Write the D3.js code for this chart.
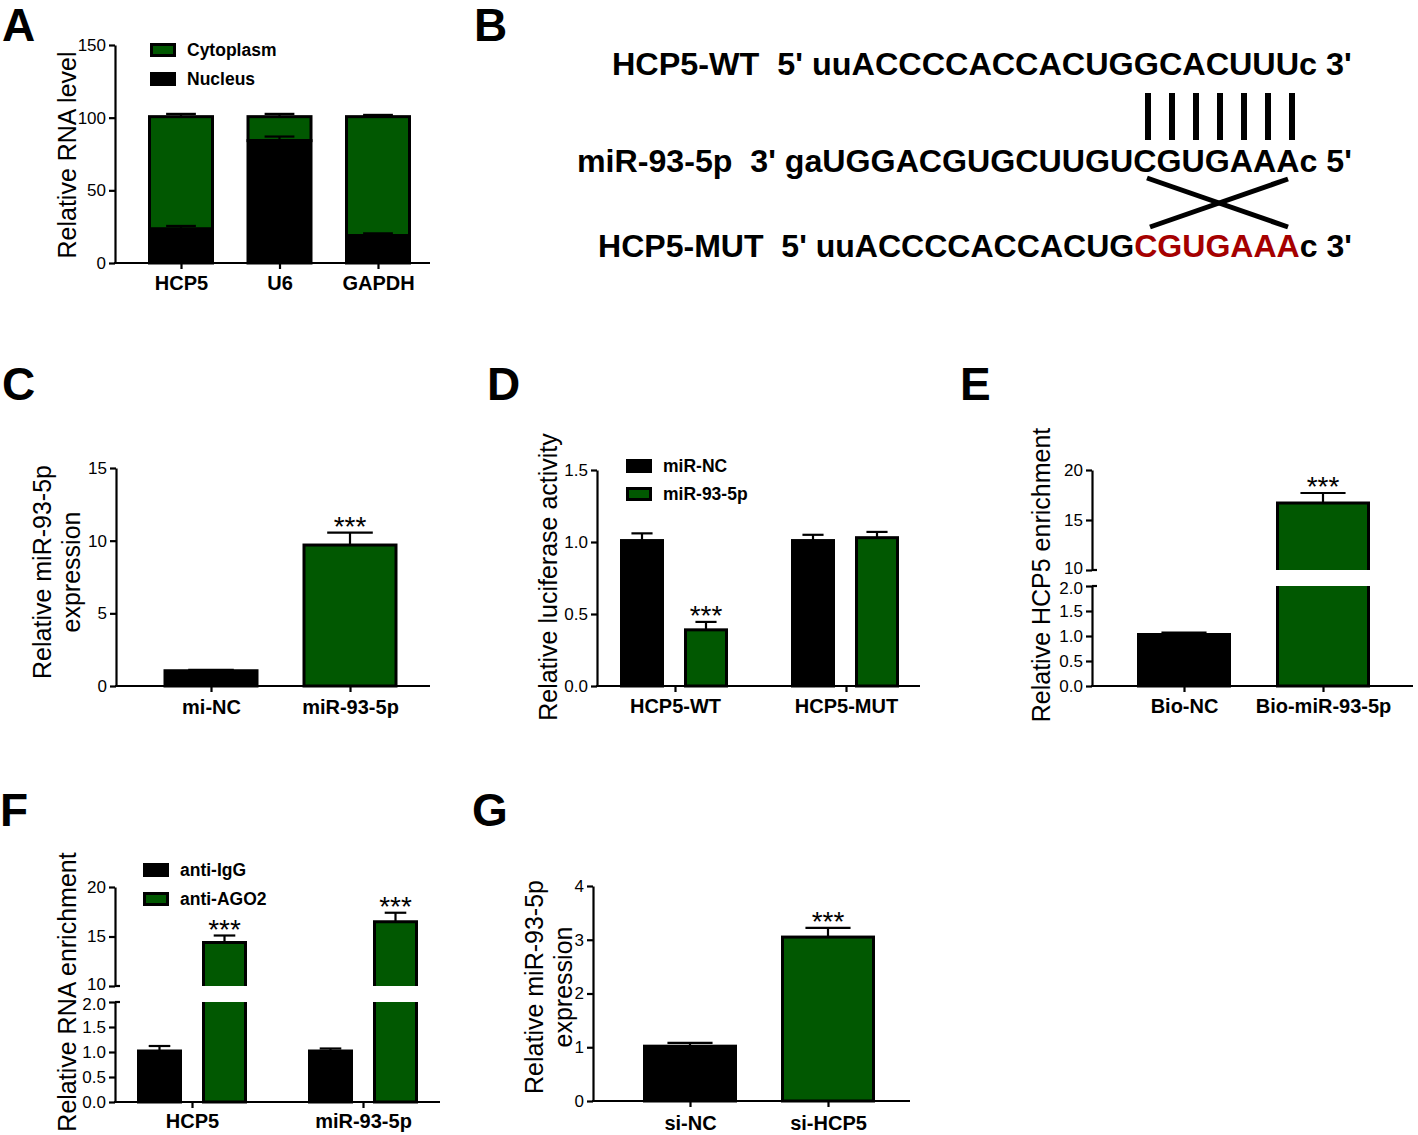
<!DOCTYPE html>
<html><head><meta charset="utf-8">
<script src="https://cdn.jsdelivr.net/npm/d3@7"></script>
<style>body{margin:0;background:#fff}svg{display:block}</style>
</head><body>
<svg id="fig" width="1418" height="1135"></svg>
<script>
// ---------------- DATA ----------------
// Panel A (stacked)
const catsA = ["HCP5", "U6", "GAPDH"];
const seriesA = ["Cytoplasm", "Nucleus"];
const nucleusA = [23.4, 84.2, 18.8];
const nucleusErrA = [2.1, 2.8, 1.6];
const cytoplasmA = [77.3, 16.5, 81.9];
const totalErrA = [1.9, 1.9, 1.2];
const ticksA = [0, 50, 100, 150];

// Panel B (sequences)
const labelsB = ["HCP5-WT", "miR-93-5p", "HCP5-MUT"];
const seqWT = ["5' uuACCCCACCACUGGCACUUUc 3'"];
const seqMiR = ["3' gaUGGACGUGCUUGUCGUGAAAc 5'"];
const seqMUT = ["5' uuACCCCACCACUG", "CGUGAAA", "c 3'"];
const basePairsB = 7;

// Panel C
const catsC = ["mi-NC", "miR-93-5p"];
const valsC = [1.05, 9.7];
const errC = [0.06, 0.85];
const sigC = ["", "***"];
const ticksC = [0, 5, 10, 15];

// Panel D (grouped)
const groupsD = ["HCP5-WT", "HCP5-MUT"];
const seriesD = ["miR-NC", "miR-93-5p"];
const ncD = [1.01, 1.01];
const ncErrD = [0.05, 0.04];
const mirD = [0.39, 1.03];
const mirErrD = [0.055, 0.04];
const sigD = ["***", ""];
const ticksD = [0, 0.5, 1.0, 1.5];

// Panel E (broken axis)
const catsE = ["Bio-NC", "Bio-miR-93-5p"];
const valsE = [1.03, 16.7];
const errE = [0.04, 1.0];
const sigE = ["", "***"];
const lowTicksE = [0, 0.5, 1.0, 1.5, 2.0];
const upTicksE = [10, 15, 20];

// Panel F (grouped, broken axis)
const groupsF = ["HCP5", "miR-93-5p"];
const seriesF = ["anti-IgG", "anti-AGO2"];
const iggF = [1.02, 1.02];
const iggErrF = [0.1, 0.05];
const ago2F = [14.4, 16.5];
const ago2ErrF = [0.7, 0.9];
const sigF = ["***", "***"];
const lowTicksF = [0, 0.5, 1.0, 1.5, 2.0];
const upTicksF = [10, 15, 20];

// Panel G
const catsG = ["si-NC", "si-HCP5"];
const valsG = [1.02, 3.05];
const errG = [0.06, 0.17];
const sigG = ["", "***"];
const ticksG = [0, 1, 2, 3, 4];

// ---------------- STYLE ----------------
const GREEN = "#015801";
const RED = "#a50000";
const FONT = '"Liberation Sans", Arial, Helvetica, sans-serif';
const LW = 2.2;

const svg = d3.select("#fig").attr("font-family", FONT);

// ---------------- HELPERS ----------------
function yAxis(g, scale, x, ticks, fmt) {
  const ax = d3.axisLeft(scale).tickValues(ticks).tickFormat(fmt)
    .tickSize(6).tickSizeOuter(0).tickPadding(3);
  const a = g.append("g").attr("transform", `translate(${x},0)`).call(ax)
    .attr("font-family", FONT).attr("font-size", 17);
  a.select(".domain").attr("stroke-width", LW);
  a.selectAll(".tick line").attr("stroke-width", LW);
  a.selectAll(".tick text").attr("fill", "#000");
  return a;
}
function xAxis(g, scale, y, x0, x1, pad) {
  g.append("line").attr("x1", x0 - 1).attr("x2", x1).attr("y1", y).attr("y2", y)
    .attr("stroke", "#000").attr("stroke-width", LW);
  const ax = d3.axisBottom(scale).tickSize(6).tickSizeOuter(0).tickPadding(pad);
  const a = g.append("g").attr("transform", `translate(0,${y})`).call(ax)
    .attr("font-family", FONT).attr("font-size", 20).attr("font-weight", "bold");
  a.select(".domain").remove();
  a.selectAll(".tick line").attr("stroke-width", LW);
  a.selectAll(".tick text").attr("fill", "#000");
}
function bar(g, xc, bw, yTop, yBase, color) {
  g.append("rect").attr("x", xc - bw / 2 + 1.5).attr("width", bw - 3)
    .attr("y", yTop).attr("height", Math.max(0, yBase - yTop))
    .attr("fill", color).attr("stroke", "#000").attr("stroke-width", 3);
}
function errBar(g, xc, bw, yTop, yErr) {
  g.append("line").attr("x1", xc).attr("x2", xc).attr("y1", yTop).attr("y2", yErr)
    .attr("stroke", "#000").attr("stroke-width", LW);
  g.append("line").attr("x1", xc - bw * 0.24).attr("x2", xc + bw * 0.24)
    .attr("y1", yErr).attr("y2", yErr).attr("stroke", "#000").attr("stroke-width", LW);
}
function sig(g, xc, yErr, s) {
  if (!s) return;
  g.append("text").attr("x", xc).attr("y", yErr + 3).attr("text-anchor", "middle")
    .attr("font-size", 28).attr("fill", "#000").text(s);
}
function yTitle(g, lines, xBase, yc, gap) {
  lines.forEach((t, i) => {
    g.append("text").attr("transform", `translate(${xBase + i * gap},${yc}) rotate(-90)`)
      .attr("text-anchor", "middle").attr("font-size", 25).attr("fill", "#000").text(t);
  });
}
function legend(g, items, x, y0, dy) {
  items.forEach((it, i) => {
    const y = y0 + i * dy;
    g.append("rect").attr("x", x + 1.5).attr("y", y + 1.5).attr("width", 23).attr("height", 11)
      .attr("fill", it.color).attr("stroke", "#000").attr("stroke-width", 3);
    g.append("text").attr("x", x + 37).attr("y", y + 13).attr("font-size", 17.5)
      .attr("font-weight", "bold").attr("fill", "#000").text(it.label);
  });
}
function panelLetter(t, x, y) {
  svg.append("text").attr("x", x).attr("y", y).attr("font-size", 46)
    .attr("font-weight", "bold").attr("fill", "#000").text(t);
}
// broken-axis helpers
function brokenY(g, lower, upper, x, lowTicks, upTicks) {
  const aL = yAxis(g, lower, x, lowTicks, d3.format(".1f"));
  const aU = yAxis(g, upper, x, upTicks, d3.format("d"));
  const lt = lower.domain()[1], ut = upper.domain()[0];
  aL.selectAll(".tick text").filter(d => d === lt).attr("dy", "0.45em");
  aU.selectAll(".tick text").filter(d => d === ut).attr("dy", "0.22em");
  [upper(ut), lower(lt)].forEach(yy => {
    g.append("line").attr("x1", x).attr("x2", x + 5).attr("y1", yy).attr("y2", yy)
      .attr("stroke", "#000").attr("stroke-width", LW);
  });
}
function brokenBar(g, xc, bw, v, lower, upper, color) {
  const top = lower.domain()[1];
  if (v <= top) { bar(g, xc, bw, lower(v), lower(0), color); return lower(v); }
  const x0 = xc - bw / 2 + 1.5, x1 = xc + bw / 2 - 1.5;
  const yb = lower(0), yl = lower(top), yu0 = upper(upper.domain()[0]), yt = upper(v);
  g.append("rect").attr("x", x0).attr("y", yl).attr("width", x1 - x0).attr("height", yb - yl).attr("fill", color);
  g.append("path").attr("d", `M${x0},${yl}V${yb}H${x1}V${yl}`).attr("fill", "none")
    .attr("stroke", "#000").attr("stroke-width", 3);
  g.append("rect").attr("x", x0).attr("y", yt).attr("width", x1 - x0).attr("height", yu0 - yt).attr("fill", color);
  g.append("path").attr("d", `M${x0},${yu0}V${yt}H${x1}V${yu0}`).attr("fill", "none")
    .attr("stroke", "#000").attr("stroke-width", 3);
  return yt;
}
function brokenVal(v, lower, upper) { return v <= lower.domain()[1] ? lower(v) : upper(v); }

// ---------------- PANEL A ----------------
{
  const g = svg.append("g");
  const y = d3.scaleLinear().domain([0, 150]).range([263, 45]);
  const x = d3.scalePoint().domain(catsA).range([181, 378]);
  const bw = 66;
  catsA.forEach((c, i) => {
    const xc = x(c);
    const tot = nucleusA[i] + cytoplasmA[i];
    bar(g, xc, bw, y(tot), y(nucleusA[i]), GREEN);
    bar(g, xc, bw, y(nucleusA[i]), y(0), "#000");
    errBar(g, xc, bw * 0.94, y(nucleusA[i]), y(nucleusA[i] + nucleusErrA[i]));
    errBar(g, xc, bw * 0.94, y(tot), y(tot + totalErrA[i]));
  });
  yAxis(g, y, 115, ticksA, d3.format("d"));
  xAxis(g, x, y(0), 115, 430, 7);
  legend(g, [{ label: seriesA[0], color: GREEN }, { label: seriesA[1], color: "#000" }], 150, 43, 29);
  yTitle(g, ["Relative RNA level"], 76, 155, 0);
  panelLetter("A", 2, 41);
}

// ---------------- PANEL B ----------------
{
  const g = svg.append("g");
  const right = 1352;
  const rows = [
    { label: labelsB[0], parts: [{ t: seqWT[0], c: "#000" }], x0: 612, base: 75 },
    { label: labelsB[1], parts: [{ t: seqMiR[0], c: "#000" }], x0: 577, base: 172 },
    { label: labelsB[2], parts: [{ t: seqMUT[0], c: "#000" }, { t: seqMUT[1], c: RED }, { t: seqMUT[2], c: "#000" }], x0: 598, base: 257 }
  ];
  rows.forEach(r => {
    const t = g.append("text").attr("font-size", 32).attr("font-weight", "bold")
      .style("white-space", "pre").attr("x", 0).attr("y", 0);
    t.append("tspan").attr("fill", "#000").text(r.label + "  ");
    r.parts.forEach(p => t.append("tspan").attr("fill", p.c).text(p.t));
    const w = t.node().getComputedTextLength();
    const sx = (right - r.x0) / w;
    t.attr("transform", `translate(${r.x0},${r.base}) scale(${sx},1)`);
  });
  const bx = d3.scalePoint().domain(d3.range(basePairsB)).range([1148, 1292]);
  d3.range(basePairsB).forEach(i => {
    g.append("line").attr("x1", bx(i)).attr("x2", bx(i)).attr("y1", 93).attr("y2", 140)
      .attr("stroke", "#000").attr("stroke-width", 6);
  });
  g.append("line").attr("x1", 1147).attr("y1", 178).attr("x2", 1288).attr("y2", 227)
    .attr("stroke", "#000").attr("stroke-width", 5);
  g.append("line").attr("x1", 1150).attr("y1", 227).attr("x2", 1288).attr("y2", 179)
    .attr("stroke", "#000").attr("stroke-width", 5);
  panelLetter("B", 474, 41);
}

// ---------------- PANEL C ----------------
{
  const g = svg.append("g");
  const y = d3.scaleLinear().domain([0, 15]).range([686, 468]);
  const x = d3.scalePoint().domain(catsC).range([211, 350]);
  const bw = 95;
  catsC.forEach((c, i) => {
    const xc = x(c);
    bar(g, xc, bw, y(valsC[i]), y(0), i === 0 ? "#000" : GREEN);
    errBar(g, xc, bw, y(valsC[i]), y(valsC[i] + errC[i]));
    sig(g, xc, y(valsC[i] + errC[i]), sigC[i]);
  });
  yAxis(g, y, 116, ticksC, d3.format("d"));
  xAxis(g, x, y(0), 116, 430, 8);
  yTitle(g, ["Relative miR-93-5p", "expression"], 51, 572, 29);
  panelLetter("C", 2, 400);
}

// ---------------- PANEL D ----------------
{
  const g = svg.append("g");
  const y = d3.scaleLinear().domain([0, 1.5]).range([686, 470]);
  const x = d3.scalePoint().domain(groupsD).range([675, 846]);
  const xi = d3.scaleBand().domain(seriesD).range([-55, 53]).paddingInner(0.3125);
  const bw = xi.bandwidth();
  const cols = ["#000", GREEN];
  const vals = [ncD, mirD], errs = [ncErrD, mirErrD];
  groupsD.forEach((gr, i) => {
    seriesD.forEach((s, j) => {
      const xc = x(gr) + xi(s) + bw / 2;
      const v = vals[j][i], e = errs[j][i];
      bar(g, xc, bw, y(v), y(0), cols[j]);
      errBar(g, xc, bw, y(v), y(v + e));
      if (j === 1) sig(g, xc, y(v + e), sigD[i]);
    });
  });
  yAxis(g, y, 597, ticksD, d3.format(".1f"));
  xAxis(g, x, y(0), 597, 920, 7);
  legend(g, [{ label: seriesD[0], color: "#000" }, { label: seriesD[1], color: GREEN }], 626, 459, 28);
  yTitle(g, ["Relative luciferase activity"], 557, 577, 0);
  panelLetter("D", 487, 400);
}

// ---------------- PANEL E ----------------
{
  const g = svg.append("g");
  const lower = d3.scaleLinear().domain([0, 2]).range([686, 586]);
  const upper = d3.scaleLinear().domain([10, 20]).range([570, 470]);
  const x = d3.scalePoint().domain(catsE).range([1184, 1323]);
  const bw = 94;
  catsE.forEach((c, i) => {
    const xc = x(c);
    const yt = brokenBar(g, xc, bw, valsE[i], lower, upper, i === 0 ? "#000" : GREEN);
    const ye = brokenVal(valsE[i] + errE[i], lower, upper);
    errBar(g, xc, bw, yt, ye);
    sig(g, xc, ye, sigE[i]);
  });
  brokenY(g, lower, upper, 1092, lowTicksE, upTicksE);
  xAxis(g, x, lower(0), 1092, 1413, 7);
  yTitle(g, ["Relative HCP5 enrichment"], 1050, 575, 0);
  panelLetter("E", 960, 400);
}

// ---------------- PANEL F ----------------
{
  const g = svg.append("g");
  const lower = d3.scaleLinear().domain([0, 2]).range([1102, 1002]);
  const upper = d3.scaleLinear().domain([10, 20]).range([986, 887]);
  const x = d3.scalePoint().domain(groupsF).range([192, 363]);
  const xi = d3.scaleBand().domain(seriesF).range([-55, 55]).paddingInner(0.3077);
  const bw = xi.bandwidth();
  const cols = ["#000", GREEN];
  const vals = [iggF, ago2F], errs = [iggErrF, ago2ErrF];
  groupsF.forEach((gr, i) => {
    seriesF.forEach((s, j) => {
      const xc = x(gr) + xi(s) + bw / 2;
      const v = vals[j][i], e = errs[j][i];
      const yt = brokenBar(g, xc, bw, v, lower, upper, cols[j]);
      const ye = brokenVal(v + e, lower, upper);
      errBar(g, xc, bw, yt, ye);
      if (j === 1) sig(g, xc, ye, sigF[i]);
    });
  });
  brokenY(g, lower, upper, 115, lowTicksF, upTicksF);
  xAxis(g, x, lower(0), 115, 440, 6);
  legend(g, [{ label: seriesF[0], color: "#000" }, { label: seriesF[1], color: GREEN }], 143, 863, 29);
  yTitle(g, ["Relative RNA enrichment"], 76, 992, 0);
  panelLetter("F", 0, 826);
}

// ---------------- PANEL G ----------------
{
  const g = svg.append("g");
  const y = d3.scaleLinear().domain([0, 4]).range([1101, 886]);
  const x = d3.scalePoint().domain(catsG).range([690, 828]);
  const bw = 94;
  catsG.forEach((c, i) => {
    const xc = x(c);
    bar(g, xc, bw, y(valsG[i]), y(0), i === 0 ? "#000" : GREEN);
    errBar(g, xc, bw, y(valsG[i]), y(valsG[i] + errG[i]));
    sig(g, xc, y(valsG[i] + errG[i]), sigG[i]);
  });
  yAxis(g, y, 593, ticksG, d3.format("d"));
  xAxis(g, x, y(0), 593, 910, 9);
  yTitle(g, ["Relative miR-93-5p", "expression"], 543, 987, 29);
  panelLetter("G", 472, 826);
}
</script>
</body></html>
